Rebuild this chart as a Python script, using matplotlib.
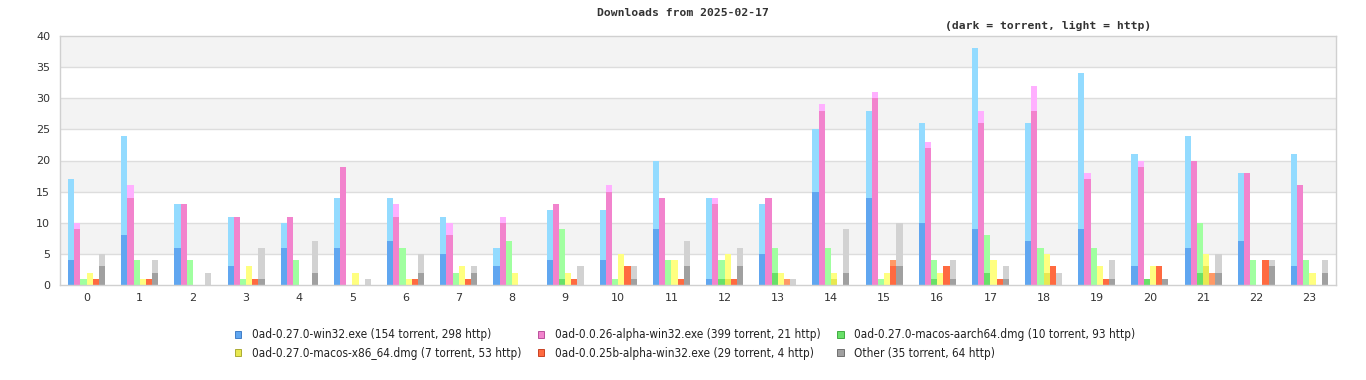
import numpy as np
import matplotlib.pyplot as plt
from matplotlib.patches import Patch

hours = list(range(24))

names = ["0ad-0.27.0-win32.exe (154 torrent, 298 http)",
         "0ad-0.0.26-alpha-win32.exe (399 torrent, 21 http)",
         "0ad-0.27.0-macos-aarch64.dmg (10 torrent, 93 http)",
         "0ad-0.27.0-macos-x86_64.dmg (7 torrent, 53 http)",
         "0ad-0.0.25b-alpha-win32.exe (29 torrent, 4 http)",
         "Other (35 torrent, 64 http)"]

# torrent counts (dark part) and totals (top of light part) per hour
win32_t = [4, 8, 6, 3, 6, 6, 7, 5, 3, 4, 4, 9, 1, 5, 15, 14, 10, 9, 7, 9, 3, 6, 7, 3]
win32_all = [17, 24, 13, 11, 10, 14, 14, 11, 6, 12, 12, 20, 14, 13, 25, 28, 26, 38, 26, 34, 21, 24, 18, 21]
a26_t = [9, 14, 13, 11, 11, 19, 11, 8, 10, 13, 15, 14, 13, 14, 28, 30, 22, 26, 28, 17, 19, 20, 18, 16]
a26_all = [10, 16, 13, 11, 11, 19, 13, 10, 11, 13, 16, 14, 14, 14, 29, 31, 23, 28, 32, 18, 20, 20, 18, 16]
arm_t = [0, 0, 0, 0, 0, 0, 0, 0, 0, 1, 0, 0, 1, 2, 0, 0, 1, 2, 0, 0, 1, 2, 0, 0]
arm_all = [1, 4, 4, 1, 4, 0, 6, 2, 7, 9, 1, 4, 4, 6, 6, 1, 4, 8, 6, 6, 1, 10, 4, 4]
x86_t = [0, 0, 0, 0, 0, 0, 0, 0, 0, 0, 0, 0, 1, 0, 1, 0, 0, 0, 2, 0, 0, 3, 0, 0]
x86_all = [2, 1, 0, 3, 0, 2, 1, 3, 2, 2, 5, 4, 5, 2, 2, 2, 2, 4, 5, 3, 3, 5, 0, 2]
a25_t = [1, 1, 0, 1, 0, 0, 1, 1, 0, 1, 3, 1, 1, 0, 0, 3, 3, 1, 3, 1, 3, 0, 4, 0]
a25_all = [1, 1, 0, 1, 0, 0, 1, 1, 0, 1, 3, 1, 1, 1, 0, 4, 3, 1, 3, 1, 3, 2, 4, 0]
oth_t = [3, 2, 0, 1, 2, 0, 2, 2, 0, 0, 1, 3, 3, 0, 2, 3, 1, 1, 0, 1, 1, 2, 3, 2]
oth_all = [5, 4, 2, 6, 7, 1, 5, 3, 0, 3, 3, 7, 6, 1, 9, 10, 4, 3, 2, 4, 1, 5, 4, 4]

torrent = [win32_t, a26_t, arm_t, x86_t, a25_t, oth_t]
total = [win32_all, a26_all, arm_all, x86_all, a25_all, oth_all]

dark = ["#60a6f0", "#f283cd", "#68e068", "#e8e850", "#ff6a40", "#a0a0a0"]
light = ["#93dbff", "#ffb0ff", "#a0ffa0", "#ffff80", "#ff9966", "#d2d2d2"]
edges = ["#3070c0", "#b04090", "#30a030", "#a0a020", "#c03010", "#606060"]

fig = plt.figure(figsize=(13.66, 3.8), dpi=100)
ax = fig.add_axes([60/1366, 95/380, 1276/1366, 249/380])

# background bands
for k in range(8):
    ax.axhspan(k*5, k*5+5, color="#f3f3f3" if k % 2 == 1 else "white", zorder=0, lw=0)
for v in range(5, 40, 5):
    ax.axhline(v, color="#dddddd", lw=1, zorder=1)

w = 0.116
x = np.array(hours)
for i in range(6):
    pos = x - 3*w + (i + 0.5)*w
    t = np.array(torrent[i])
    tot = np.array(total[i])
    ax.bar(pos, tot - t, w, bottom=t, color=light[i], lw=0, zorder=2)
    ax.bar(pos, t, w, color=dark[i], lw=0, zorder=2)

ax.set_xlim(-0.5, 23.5)
ax.set_ylim(0, 40)
ax.set_xticks(hours)
ax.set_yticks(range(0, 41, 5))
ax.tick_params(length=0, labelsize=8, colors="#333333", pad=6)
ax.tick_params(axis="y", pad=7)
for s in ax.spines.values():
    s.set_color("#d0d0d0")
    s.set_linewidth(1)

fig.text(683/1366, 1 - 13/380, "Downloads from 2025-02-17", ha="center", va="center",
         family="DejaVu Sans Mono", weight="bold", fontsize=8.2, color="#333333")
fig.text(1048/1366, 1 - 26/380, "(dark = torrent, light = http)", ha="center", va="center",
         family="DejaVu Sans Mono", weight="bold", fontsize=8.2, color="#333333")

handles = [Patch(facecolor=dark[i], edgecolor=edges[i], lw=0.6, label=names[i]) for i in range(6)]
order = [0, 3, 1, 4, 2, 5]
fig.legend([handles[i] for i in order], [names[i] for i in order], ncol=3,
           loc="center", bbox_to_anchor=(685/1366, 1 - 344/380), frameon=False,
           prop={"family": "DejaVu Sans", "stretch": "condensed", "size": 8.5},
           handlelength=0.55, handleheight=0.55, handletextpad=0.9, columnspacing=1.4,
           labelspacing=0.45, labelcolor="#222222")

fig.savefig("out.png", dpi=100)
